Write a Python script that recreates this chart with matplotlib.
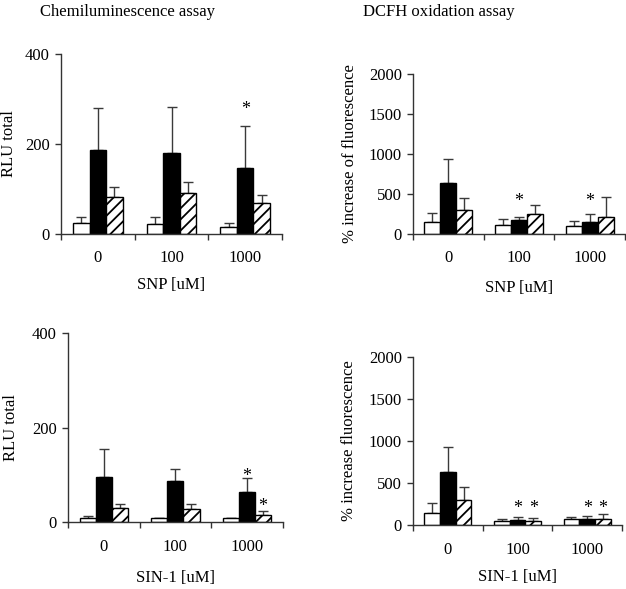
import matplotlib
matplotlib.use("Agg")
import matplotlib.pyplot as plt
import numpy as np

plt.rcParams['font.family'] = ['Liberation Serif', 'DejaVu Serif']
plt.rcParams['hatch.linewidth'] = 1.3

categories = ["0", "100", "1000"]

# Chemiluminescence, SNP
chem_snp_white = [24.5, 21.5, 16]
chem_snp_white_err = [13.5, 16.5, 8.5]
chem_snp_black = [186, 180, 147]
chem_snp_black_err = [93, 102, 92]
chem_snp_hatch = [82, 90, 67.5]
chem_snp_hatch_err = [22, 25, 18.5]

# DCFH, SNP
dcfh_snp_white = [142, 108, 100]
dcfh_snp_white_err = [120, 75, 58]
dcfh_snp_black = [629, 167, 150]
dcfh_snp_black_err = [304, 45, 100]
dcfh_snp_hatch = [296, 250, 204]
dcfh_snp_hatch_err = [154, 108, 250]

# Chemiluminescence, SIN-1
chem_sin_white = [8.5, 8.5, 9]
chem_sin_white_err = [4, 1.5, 1]
chem_sin_black = [95, 87, 65]
chem_sin_black_err = [61, 25, 28]
chem_sin_hatch = [30, 28, 16]
chem_sin_hatch_err = [9, 11, 7]

# DCFH, SIN-1
dcfh_sin_white = [146, 51, 67]
dcfh_sin_white_err = [119, 24, 24]
dcfh_sin_black = [626, 59, 67]
dcfh_sin_black_err = [305, 40, 40]
dcfh_sin_hatch = [297, 48, 71]
dcfh_sin_hatch_err = [151, 35, 60]

# significance stars: (category index, series index 0=white 1=black 2=hatched)
chem_snp_stars = [(2, 1)]
dcfh_snp_stars = [(1, 1), (2, 1)]
chem_sin_stars = [(2, 1), (2, 2)]
dcfh_sin_stars = [(1, 1), (1, 2), (2, 1), (2, 2)]

W, H = 626, 589
fig = plt.figure(figsize=(W / 100, H / 100), dpi=100)

def rect(x0, x1, y0, y1):
    return [x0 / W, 1 - y1 / H, (x1 - x0) / W, (y1 - y0) / H]

FS = 12
panels = [
    dict(r=rect(61, 282, 54, 233.7), vals=(chem_snp_white, chem_snp_black, chem_snp_hatch),
         errs=(chem_snp_white_err, chem_snp_black_err, chem_snp_hatch_err), ymax=400, ystep=200,
         ylabel="RLU total", xlabel="SNP [uM]", stars=chem_snp_stars, star_off=[21],
         ylx=-0.2375, xly=-51),
    dict(r=rect(413, 625, 73.7, 233.7), vals=(dcfh_snp_white, dcfh_snp_black, dcfh_snp_hatch),
         errs=(dcfh_snp_white_err, dcfh_snp_black_err, dcfh_snp_hatch_err), ymax=2000, ystep=500,
         ylabel="% increase of fluorescence", xlabel="SNP [uM]", stars=dcfh_snp_stars, star_off=[20, 17],
         ylx=-0.2986, xly=-54),
    dict(r=rect(68, 282.7, 333.3, 522.3), vals=(chem_sin_white, chem_sin_black, chem_sin_hatch),
         errs=(chem_sin_white_err, chem_sin_black_err, chem_sin_hatch_err), ymax=400, ystep=200,
         ylabel="RLU total", xlabel="SIN-1 [uM]", stars=chem_sin_stars, star_off=[6, 9],
         ylx=-0.265, xly=-56),
    dict(r=rect(413, 622, 356.7, 525), vals=(dcfh_sin_white, dcfh_sin_black, dcfh_sin_hatch),
         errs=(dcfh_sin_white_err, dcfh_sin_black_err, dcfh_sin_hatch_err), ymax=2000, ystep=500,
         ylabel="% increase fluorescence", xlabel="SIN-1 [uM]", stars=dcfh_sin_stars, star_off=[12.7, 14, 12, 10],
         ylx=-0.305, xly=-52),
]

bw = 0.225
offsets = [-bw, 0, bw]
styles = [dict(color='white', edgecolor='black', hatch=None),
          dict(color='black', edgecolor='black', hatch=None),
          dict(color='white', edgecolor='black', hatch='///')]
errcol = '#3a3a3a'

for p in panels:
    ax = fig.add_axes(p['r'])
    x = np.arange(len(categories)) + 0.5
    for k in range(3):
        vals = np.array(p['vals'][k], dtype=float)
        errs = np.array(p['errs'][k], dtype=float)
        xs = x + offsets[k]
        ax.errorbar(xs, vals, yerr=[np.zeros_like(errs), errs], fmt='none',
                    ecolor=errcol, elinewidth=1.0, capsize=3.3, capthick=1.0, zorder=1)
        ax.bar(xs, vals, width=bw, facecolor=styles[k]['color'], edgecolor='black',
               linewidth=1.0, hatch=styles[k]['hatch'], zorder=2)
    for (ci, si), off in zip(p['stars'], p['star_off']):
        top = p['vals'][si][ci] + p['errs'][si][ci]
        ax.annotate('*', xy=(x[ci] + offsets[si], top), xytext=(0, (off - 9) * 0.72),
                    textcoords='offset points', ha='center', va='baseline', fontsize=13)
    ax.set_xlim(0, 3)
    ax.set_ylim(0, p['ymax'])
    ax.set_yticks(np.arange(0, p['ymax'] + 1, p['ystep']))
    ax.set_xticks([0, 1, 2, 3])
    ax.set_xticklabels([])
    ax.set_xticks(x, minor=True)
    ax.set_xticklabels(categories, minor=True)
    ax.tick_params(axis='x', which='major', direction='out', length=4, width=1, color='#333')
    ax.tick_params(axis='x', which='minor', length=0, pad=12, labelsize=FS)
    ax.tick_params(axis='y', direction='out', length=4, width=1, color='#333', pad=4, labelsize=FS)
    for s in ['top', 'right']:
        ax.spines[s].set_visible(False)
    for s in ['left', 'bottom']:
        ax.spines[s].set_color('#333')
        ax.spines[s].set_linewidth(1.0)
    ax.set_ylabel(p['ylabel'], fontsize=FS, va='center')
    ax.yaxis.set_label_coords(p['ylx'], 0.5)
    ax.annotate(p['xlabel'], xy=(0.5, 0), xycoords='axes fraction', xytext=(0, p['xly'] * 0.72),
                textcoords='offset points', ha='center', va='center', fontsize=FS)

fig.text(127 / W, 1 - 16 / H, "Chemiluminescence assay", ha='center', va='baseline', fontsize=FS)
fig.text(439 / W, 1 - 16 / H, "DCFH oxidation assay", ha='center', va='baseline', fontsize=FS)

fig.savefig("out.png", dpi=100)
